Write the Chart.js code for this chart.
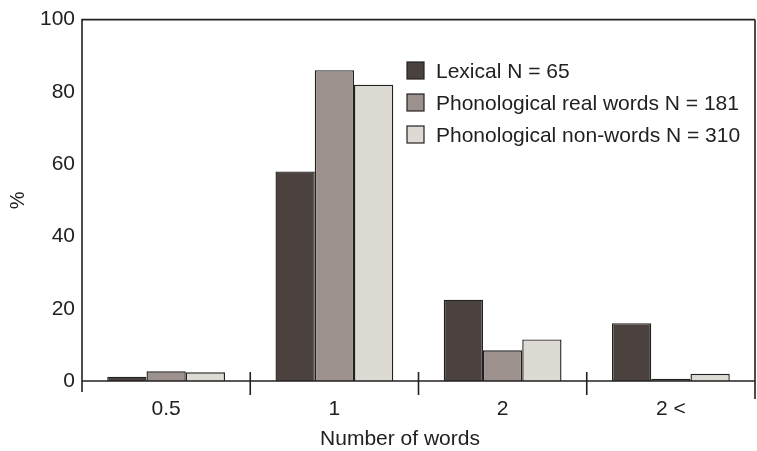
<!DOCTYPE html>
<html>
<head>
<meta charset="utf-8">
<script src="https://cdn.jsdelivr.net/npm/chart.js@4.4.1/dist/chart.umd.min.js"></script>
<style>
  html, body { margin: 0; padding: 0; background: #ffffff; }
  canvas { display: block; }
</style>
</head>
<body>
<canvas id="words-chart" width="757" height="451"></canvas>
<script>
const categories = ['0.5', '1', '2', '2 <'];
const lexical = [1.2, 58, 22.5, 16];
const realWords = [2.7, 86, 8.5, 0.6];
const nonWords = [2.4, 82, 11.5, 2];
const seriesLabels = [
  'Lexical N = 65',
  'Phonological real words N = 181',
  'Phonological non-words N = 310'
];
const yTicks = [0, 20, 40, 60, 80, 100];
const xTitle = 'Number of words';

const FONT = '"Liberation Sans", Arial, sans-serif';
const INK = '#232020';

// frame, y axis stub below zero and the crossing ticks between categories
const framePlugin = {
  id: 'frame',
  afterDraw(chart) {
    const ctx = chart.ctx;
    const area = chart.chartArea;
    const x = chart.scales.x;
    const step = x.getPixelForValue(1) - x.getPixelForValue(0);
    ctx.save();
    ctx.strokeStyle = INK;
    ctx.lineWidth = 1.6;
    ctx.beginPath();
    ctx.moveTo(area.left, area.bottom + 11);
    ctx.lineTo(area.left, area.top);
    ctx.lineTo(area.right, area.top);
    ctx.moveTo(area.left, area.bottom);
    ctx.lineTo(area.right, area.bottom);
    ctx.moveTo(area.right, area.top);
    ctx.lineTo(area.right, area.bottom + 18);
    for (let i = 0; i < categories.length - 1; i++) {
      const px = x.getPixelForValue(i) + step / 2;
      ctx.moveTo(px, area.bottom - 9);
      ctx.lineTo(px, area.bottom + 14);
    }
    ctx.stroke();

    // x title sits a little left of the plot centre in the original
    ctx.font = '21px ' + FONT;
    ctx.fillStyle = INK;
    ctx.textAlign = 'center';
    ctx.textBaseline = 'middle';
    ctx.fillText(xTitle, 400, 439);
    ctx.restore();
  }
};

// legend drawn inside the plot area, top right
const legendPlugin = {
  id: 'innerLegend',
  afterDraw(chart) {
    const ctx = chart.ctx;
    ctx.save();
    ctx.font = '21px ' + FONT;
    ctx.textBaseline = 'middle';
    chart.data.datasets.forEach((ds, i) => {
      const cy = 71 + i * 32;
      ctx.fillStyle = ds.backgroundColor;
      ctx.fillRect(407, cy - 9, 17, 17);
      ctx.strokeStyle = INK;
      ctx.lineWidth = 1.2;
      ctx.strokeRect(407, cy - 9, 17, 17);
      ctx.fillStyle = INK;
      ctx.fillText(ds.label, 436, cy + 1);
    });
    ctx.restore();
  }
};

new Chart(document.getElementById('words-chart').getContext('2d'), {
  type: 'bar',
  data: {
    labels: categories,
    datasets: [
      {
        label: seriesLabels[0],
        data: lexical,
        backgroundColor: '#4b4240',
        borderColor: INK,
        borderWidth: 1.4
      },
      {
        label: seriesLabels[1],
        data: realWords,
        backgroundColor: '#9c918c',
        borderColor: INK,
        borderWidth: 1.4
      },
      {
        label: seriesLabels[2],
        data: nonWords,
        backgroundColor: '#dcdad2',
        borderColor: INK,
        borderWidth: 1.4
      }
    ]
  },
  options: {
    responsive: false,
    animation: false,
    datasets: {
      bar: {
        categoryPercentage: 0.7,
        barPercentage: 1
      }
    },
    layout: {
      padding: { top: 17, right: 2, left: 0, bottom: 0 }
    },
    scales: {
      x: {
        grid: { display: false, drawTicks: false },
        border: { display: false },
        ticks: {
          color: INK,
          font: { family: FONT, size: 21, lineHeight: 1 },
          padding: 18
        },
        afterFit(scale) {
          scale.height = 70;
        }
      },
      y: {
        min: 0,
        max: 100,
        afterBuildTicks(scale) {
          scale.ticks = yTicks.map(v => ({ value: v }));
        },
        grid: { display: false, drawTicks: false },
        border: { display: false },
        ticks: {
          color: INK,
          font: { family: FONT, size: 21 },
          padding: 7
        },
        title: {
          display: true,
          text: '%',
          color: INK,
          font: { family: FONT, size: 20, lineHeight: 1 },
          padding: { top: 8, bottom: 0 }
        },
        afterFit(scale) {
          scale.width = 82;
        }
      }
    },
    plugins: {
      legend: { display: false },
      tooltip: { enabled: false }
    }
  },
  plugins: [framePlugin, legendPlugin]
});
</script>
</body>
</html>
